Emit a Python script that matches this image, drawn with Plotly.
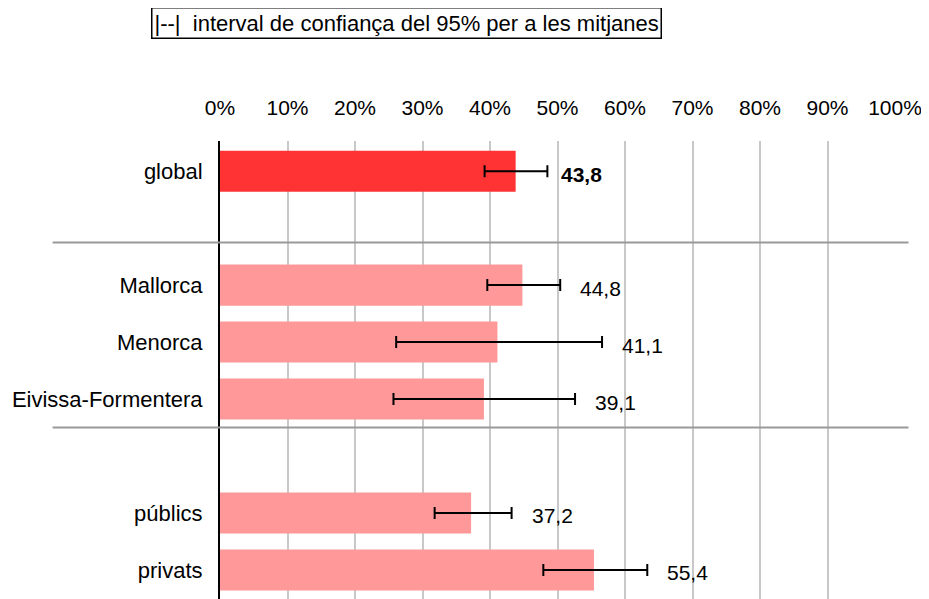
import plotly.graph_objects as go

# row order on the chart (blank strings are spacer rows)
row_order = ["global", " ", "Mallorca", "Menorca", "Eivissa-Formentera", "  ", "públics", "privats"]

categories = ["global", "Mallorca", "Menorca", "Eivissa-Formentera", "públics", "privats"]
means = [43.8, 44.8, 41.1, 39.1, 37.2, 55.4]
ci_low = [39.2, 39.6, 26.1, 25.7, 31.8, 47.9]
ci_high = [48.5, 50.4, 56.6, 52.6, 43.2, 63.3]
labels = ["43,8", "44,8", "41,1", "39,1", "37,2", "55,4"]

x_ticks = [0, 10, 20, 30, 40, 50, 60, 70, 80, 90, 100]
x_ticktext = [f"{t}%" for t in x_ticks]

FONT = "Liberation Sans, Arial, sans-serif"
colors = ["#ff3333"] + ["#ff9999"] * (len(categories) - 1)

fig = go.Figure()
fig.add_trace(go.Bar(
    x=means,
    y=categories,
    orientation="h",
    width=0.72,
    marker=dict(color=colors, line=dict(width=0)),
    error_x=dict(
        type="data",
        symmetric=False,
        array=[h - m for h, m in zip(ci_high, means)],
        arrayminus=[m - l for m, l in zip(means, ci_low)],
        color="black",
        thickness=2,
        width=6,
    ),
    hoverinfo="skip",
))

# value labels to the right of the error bars
for cat, hi, lab in zip(categories, ci_high, labels):
    txt = f"<b>{lab}</b>" if cat == "global" else lab
    fig.add_annotation(
        x=hi, y=cat, text=txt, showarrow=False,
        xanchor="left", yanchor="middle",
        xshift=12 if cat == "global" else 18, yshift=-3,
        font=dict(family=FONT, size=21, color="black"),
    )

# group separators
for ysep in [1.25, 4.5]:
    fig.add_shape(
        type="line", xref="paper", yref="y",
        x0=-0.248, x1=1.02, y0=ysep, y1=ysep,
        line=dict(color="#999999", width=2),
    )

# legend box
fig.add_annotation(
    xref="paper", yref="paper", x=0.277, y=1.258,
    text="|--|  interval de confiança del 95% per a les mitjanes",
    showarrow=False, xanchor="center", yanchor="middle",
    font=dict(family=FONT, size=22, color="black"),
    bordercolor="black", borderwidth=1.5, borderpad=2, bgcolor="white",
)

# page has an 8px body margin, so the figure is a bit smaller than the window
fig.update_layout(
    width=921, height=591,
    margin=dict(l=212, r=34, t=133, b=0),
    plot_bgcolor="white", paper_bgcolor="white",
    showlegend=False,
    font=dict(family=FONT, size=22, color="black"),
    xaxis=dict(
        side="top", range=[0, 100], automargin=False,
        tickvals=x_ticks, ticktext=x_ticktext,
        showgrid=True, gridcolor="#c8c8c8", gridwidth=2,
        zeroline=False, showline=False, ticks="",
        ticklabelstandoff=21,
        tickfont=dict(family=FONT, size=21),
    ),
    yaxis=dict(
        type="category", categoryorder="array", categoryarray=row_order,
        range=[7.51, -0.53], automargin=False,
        showgrid=False, zeroline=False,
        showline=True, linecolor="black", linewidth=2,
        ticks="", ticklabelstandoff=11,
        tickfont=dict(family=FONT, size=22),
    ),
)

fig.write_html("out.html")
